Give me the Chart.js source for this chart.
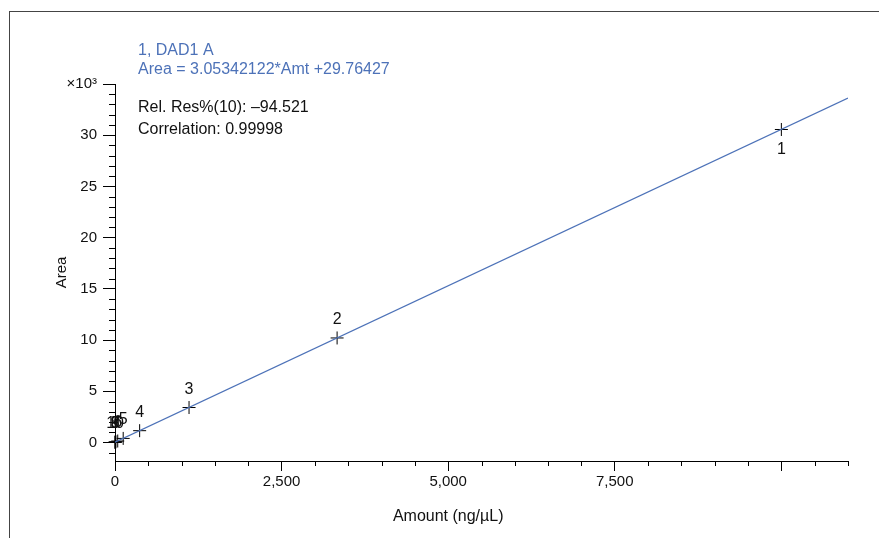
<!DOCTYPE html>
<html>
<head>
<meta charset="utf-8">
<script src="https://cdn.jsdelivr.net/npm/chart.js@4.4.1/dist/chart.umd.min.js"></script>
<style>
body { margin: 0; background: #fff; }
#wrap { position: relative; width: 879px; height: 538px; overflow: hidden; }
#frame { position: absolute; left: 9px; top: 11px; right: -5px; bottom: -5px; border-top: 1px solid #444; border-left: 1px solid #444; }
canvas { position: absolute; left: 0; top: 0; }
</style>
</head>
<body>
<div id="wrap"><div id="frame"></div><canvas id="calib" width="879" height="538"></canvas></div>
<script>
// calibration levels (ng/uL) and measured areas
const amounts = [10000, 3333, 1111, 370, 123, 41, 14, 4.6, 1.5, 0.5];
const areas = [30560, 10210, 3420, 1160, 405, 150, 72, 44, 35, 31];
const pointLabels = ['1', '2', '3', '4', '5', '6', '7', '8', '9', '10'];

// fitted line end points
const fitAmounts = [0, 11000];
const fitAreas = [30, 33620];

const xLabelTicks = [0, 2500, 5000, 7500];
const yLabelTicks = [0, 5000, 10000, 15000, 20000, 25000, 30000];

const headerLines = ['1, DAD1 A', 'Area = 3.05342122*Amt +29.76427'];
const statLines = ['Rel. Res%(10): \u201394.521', 'Correlation: 0.99998'];

const FONT = "'Liberation Sans', Arial, sans-serif";
const BLUE = '#4d72b8';

// tick positions: every 1000 on y, every 500 on x
function tickRange(from, to, step) {
    const out = [];
    for (let v = from; v <= to; v += step) out.push({value: v});
    return out;
}

const minorTicks = {
    id: 'minorTicks',
    afterDraw(chart) {
        const ctx = chart.ctx, area = chart.chartArea;
        const x = chart.scales.x, y = chart.scales.y;
        ctx.save();
        ctx.strokeStyle = '#000';
        ctx.lineWidth = 1;
        ctx.beginPath();
        x.ticks.forEach(t => {
            if (t.value % 2500 !== 0) {
                const px = Math.round(x.getPixelForValue(t.value)) + 0.5;
                ctx.moveTo(px, area.bottom);
                ctx.lineTo(px, area.bottom + 5);
            }
        });
        y.ticks.forEach(t => {
            if (t.value % 5000 !== 0) {
                const py = Math.round(y.getPixelForValue(t.value)) + 0.5;
                ctx.moveTo(area.left - 6, py);
                ctx.lineTo(area.left, py);
            }
        });
        ctx.stroke();
        ctx.restore();
    }
};

const textBits = {
    id: 'textBits',
    afterDraw(chart) {
        const ctx = chart.ctx;
        const x = chart.scales.x;
        ctx.save();
        ctx.font = '16px ' + FONT;
        ctx.textAlign = 'left';
        ctx.textBaseline = 'alphabetic';
        ctx.fillStyle = BLUE;
        ctx.fillText(headerLines[0], 138, 55);
        ctx.fillText(headerLines[1], 138, 74);
        ctx.fillStyle = '#111';
        ctx.fillText(statLines[0], 138, 112);
        ctx.fillText(statLines[1], 138, 134);

        // x title, centred over the labelled range
        ctx.textAlign = 'center';
        const cx = (x.getPixelForValue(0) + x.getPixelForValue(10000)) / 2;
        ctx.fillText('Amount (ng/\u00b5L)', cx, 521);

        // point numbers
        const meta = chart.getDatasetMeta(1);
        meta.data.forEach((el, i) => {
            const dy = i === 0 ? 25 : -14;
            ctx.fillText(pointLabels[i], el.x, el.y + dy);
        });
        ctx.restore();
    }
};

new Chart(document.getElementById('calib'), {
    type: 'scatter',
    data: {
        datasets: [
            {
                type: 'line',
                data: fitAmounts.map((v, i) => ({x: v, y: fitAreas[i]})),
                borderColor: BLUE,
                borderWidth: 1.2,
                pointRadius: 0,
                fill: false
            },
            {
                data: amounts.map((v, i) => ({x: v, y: areas[i]})),
                pointStyle: 'cross',
                pointRadius: 6.5,
                borderColor: '#000',
                backgroundColor: '#000',
                borderWidth: 1,
                clip: false
            }
        ]
    },
    options: {
        responsive: false,
        animation: false,
        devicePixelRatio: 1,
        layout: { padding: { top: 84, right: 31, left: 0, bottom: 0 } },
        plugins: { legend: { display: false }, tooltip: { enabled: false } },
        scales: {
            x: {
                type: 'linear',
                min: 0,
                max: 11000,
                afterBuildTicks: s => { s.ticks = tickRange(0, 11000, 500); },
                afterFit: s => { s.height = 77; },
                border: { display: true, color: '#000', width: 1 },
                grid: {
                    drawOnChartArea: false,
                    tickLength: 10,
                    tickColor: c => (c.tick && c.tick.value % 2500 === 0) ? '#000' : 'rgba(0,0,0,0)'
                },
                ticks: {
                    autoSkip: false,
                    maxRotation: 0,
                    padding: 2,
                    color: '#111',
                    font: { family: FONT, size: 15 },
                    callback: v => xLabelTicks.includes(v) ? v.toLocaleString('en-US') : ''
                }
            },
            y: {
                type: 'linear',
                min: -1800,
                max: 35000,
                afterBuildTicks: s => { s.ticks = tickRange(-1000, 35000, 1000); },
                afterFit: s => { s.width = 115; },
                border: { display: true, color: '#000', width: 1 },
                grid: {
                    drawOnChartArea: false,
                    tickLength: 12,
                    tickColor: c => (c.tick && c.tick.value % 5000 === 0) ? '#000' : 'rgba(0,0,0,0)'
                },
                title: {
                    display: true,
                    text: 'Area',
                    color: '#111',
                    font: { family: FONT, size: 15 },
                    padding: { top: 53, bottom: 0 }
                },
                ticks: {
                    autoSkip: false,
                    padding: 6,
                    color: '#111',
                    font: { family: FONT, size: 15 },
                    callback: v => v === 35000 ? '\u00d710\u00b3' : (yLabelTicks.includes(v) ? String(v / 1000) : '')
                }
            }
        }
    },
    plugins: [minorTicks, textBits]
});
</script>
</body>
</html>
